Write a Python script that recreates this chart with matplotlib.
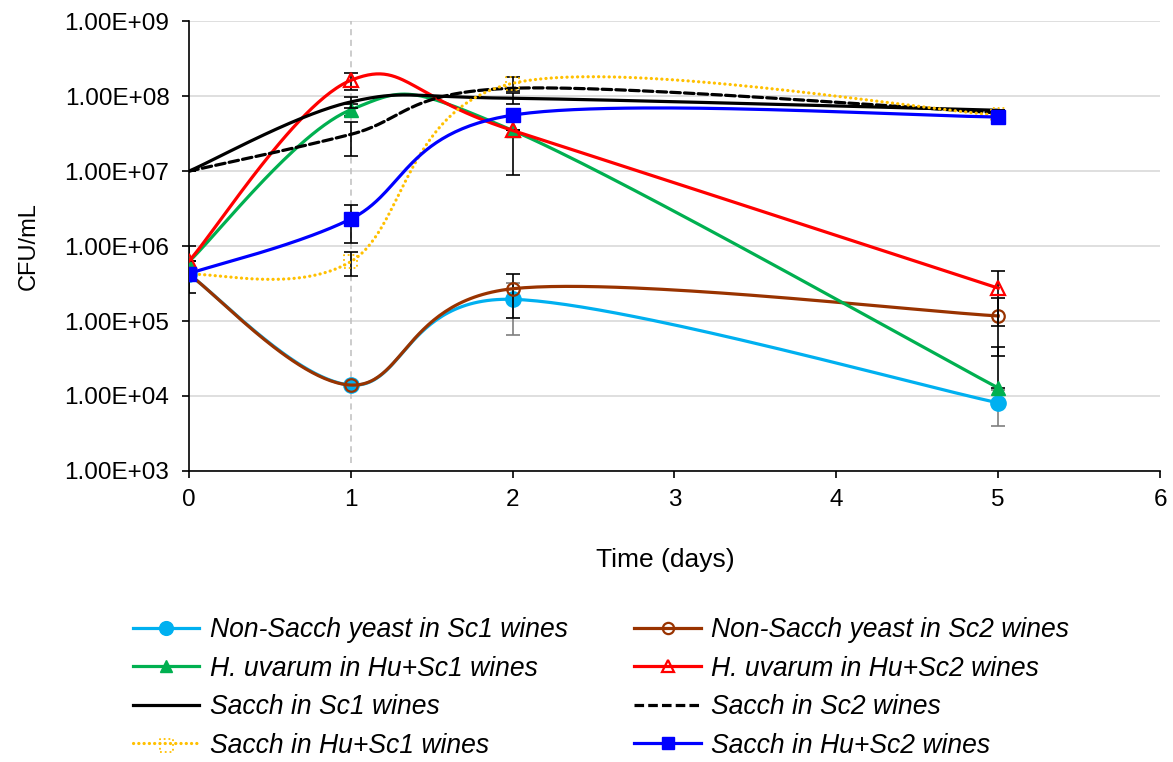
import numpy as np
import matplotlib
matplotlib.use("Agg")
import matplotlib.pyplot as plt
from matplotlib.lines import Line2D
from matplotlib.ticker import FuncFormatter, NullLocator

plt.rcParams['font.family'] = ['Liberation Sans', 'DejaVu Sans']

# sampling days
days = [0, 1, 2, 5]

# CFU/mL, with error bar half-widths (linear)
nonsacch_sc1 = [4.2e5, 1.4e4, 1.95e5, 8.1e3]
nonsacch_sc1_err = [0, 0, 1.3e5, 4.1e3]
nonsacch_sc2 = [4.2e5, 1.4e4, 2.7e5, 1.17e5]
nonsacch_sc2_err = [0, 0, 1.6e5, 8.3e4]
huv_husc1 = [6.2e5, 6.6e7, 3.5e7, 1.28e4]
huv_husc1_err = [3.8e5, 1.2e7, 2.6e7, 3.2e4]
huv_husc2 = [6.3e5, 1.63e8, 3.5e7, 2.75e5]
huv_husc2_err = [0, 4.0e7, 0, 1.9e5]
sacch_sc1 = [1.0e7, 8.4e7, 9.4e7, 6.5e7]
sacch_sc1_err = [0, 1.5e7, 1.5e7, 0]
sacch_sc2 = [1.0e7, 3.1e7, 1.28e8, 6.0e7]
sacch_sc2_err = [0, 1.5e7, 0, 0]
sacch_husc1 = [4.2e5, 6.2e5, 1.49e8, 5.6e7]
sacch_husc1_err = [0, 2.2e5, 3.0e7, 0]
sacch_husc2 = [4.3e5, 2.3e6, 5.6e7, 5.3e7]
sacch_husc2_err = [0, 1.2e6, 0, 0]

labels = ["Non-Sacch yeast in Sc1 wines", "Non-Sacch yeast in Sc2 wines",
          "H. uvarum in Hu+Sc1 wines", "H. uvarum in Hu+Sc2 wines",
          "Sacch in Sc1 wines", "Sacch in Sc2 wines",
          "Sacch in Hu+Sc1 wines", "Sacch in Hu+Sc2 wines"]


def smooth(x, y, n=60):
    # Excel-like smoothed line: Catmull-Rom bezier in (x, log y) space
    P = np.column_stack([np.asarray(x, float), np.log10(y)])
    out = []
    for i in range(len(P) - 1):
        p0 = P[max(i - 1, 0)]
        p1 = P[i]
        p2 = P[i + 1]
        p3 = P[min(i + 2, len(P) - 1)]
        c1 = p1 + (p2 - p0) / 6
        c2 = p2 - (p3 - p1) / 6
        t = np.linspace(0, 1, n)[:, None]
        seg = (1 - t) ** 3 * p1 + 3 * (1 - t) ** 2 * t * c1 + 3 * (1 - t) * t ** 2 * c2 + t ** 3 * p2
        out.append(seg if i == 0 else seg[1:])
    out = np.vstack(out)
    return out[:, 0], 10 ** out[:, 1]


fig = plt.figure(figsize=(11.73, 7.62), dpi=100)
ax = fig.add_axes([0.161, 0.382, 0.828, 0.590])
ax.set_yscale('log')
ax.set_xlim(0, 6)
ax.set_ylim(1e3, 1e9)

ax.axvline(1, ymin=0.018, ymax=1, color='#bfbfbf', ls=(0, (4, 3)), lw=1.1, zorder=1)

series = [
    (nonsacch_sc1, nonsacch_sc1_err, dict(color='#00b0f0', ls='-', marker='o', ms=11, mfc='#00b0f0', mec='#00b0f0'), '#7f7f7f'),
    (nonsacch_sc2, nonsacch_sc2_err, dict(color='#993300', ls='-', marker='o', ms=9, mfc='none', mec='#993300', mew=1.6), 'black'),
    (huv_husc1, huv_husc1_err, dict(color='#00b050', ls='-', marker='^', ms=10, mfc='#00b050', mec='#00b050'), 'black'),
    (huv_husc2, huv_husc2_err, dict(color='#ff0000', ls='-', marker='^', ms=10, mfc='none', mec='#ff0000', mew=1.6), 'black'),
    (sacch_sc1, sacch_sc1_err, dict(color='black', ls='-', marker=None), 'black'),
    (sacch_sc2, sacch_sc2_err, dict(color='black', ls=(0, (3, 1.3)), marker=None), 'black'),
    (sacch_husc1, sacch_husc1_err, dict(color='#ffc000', ls=(0, (0.05, 1.6)), marker=None), 'black'),
    (sacch_husc2, sacch_husc2_err, dict(color='#0000ff', ls='-', marker='s', ms=10, mfc='#0000ff', mec='#0000ff'), 'black'),
]

handles = []
for k, (vals, errs, st, ecol) in enumerate(series):
    z = 3 + k
    v = np.array(vals)
    e = np.array(errs, float)
    lo = np.where(v - e > 0, e, 0)
    ax.errorbar(days, v, yerr=[lo, e], fmt='none', ecolor=ecol, elinewidth=1.2,
                capsize=5, capthick=1.2, zorder=z)
    sx, sy = smooth(days, vals)
    lw = 2.3
    ax.plot(sx, sy, color=st['color'], ls=st['ls'], lw=lw, dash_capstyle='round', zorder=z)
    if st['marker']:
        ax.plot(days, vals, ls='none', marker=st['marker'], ms=st['ms'], mfc=st['mfc'],
                mec=st['mec'], mew=st.get('mew', 1), zorder=z + 0.5)
        handles.append(Line2D([], [], color=st['color'], ls=st['ls'], lw=lw, marker=st['marker'],
                              ms=st['ms'] * 0.9, mfc=st['mfc'], mec=st['mec'], mew=st.get('mew', 1)))
    elif k == 6:
        sc = ax.scatter(days, vals, marker='s', s=95, facecolors='none', edgecolors='#ffc000',
                        linewidths=1.3, linestyles=':', zorder=z + 0.5)
        ln = Line2D([], [], color=st['color'], ls=st['ls'], lw=lw, dash_capstyle='round')
        handles.append((ln, sc))
    else:
        handles.append(Line2D([], [], color=st['color'], ls=st['ls'], lw=lw))

ax.set_xticks(range(0, 7))
ax.set_yticks([10.0 ** p for p in range(3, 10)])
ax.yaxis.set_minor_locator(NullLocator())
ax.yaxis.set_major_formatter(FuncFormatter(lambda v, p: f"{v:.2E}"))
ax.grid(axis='y', color='#d9d9d9', lw=1.2, zorder=0)
ax.set_axisbelow(True)
ax.tick_params(axis='both', direction='out', length=5, width=1.2, labelsize=17.5, colors='black')
ax.tick_params(axis='x', pad=8)
ax.tick_params(axis='y', pad=9)
for s in ['top', 'right']:
    ax.spines[s].set_visible(False)
for s in ['left', 'bottom']:
    ax.spines[s].set_linewidth(1.2)

ax.set_xlabel("Time (days)", fontsize=19)
ax.set_ylabel("CFU/mL", fontsize=17)
ax.xaxis.set_label_coords(0.491, -0.172)
ax.yaxis.set_label_coords(-0.154, 0.5)

# column-major ordering so rows read Sc1 | Sc2
order = [0, 2, 4, 6, 1, 3, 5, 7]
fig.legend([handles[i] for i in order], [labels[i] for i in order], ncol=2,
           loc='upper left', bbox_to_anchor=(0.1135, 0.190), frameon=False,
           prop={'size': 19.1, 'style': 'italic'}, handlelength=2.5, handletextpad=0.4,
           columnspacing=2.5, labelspacing=0.47, borderpad=0, borderaxespad=0)

fig.savefig("out.png", dpi=100)
